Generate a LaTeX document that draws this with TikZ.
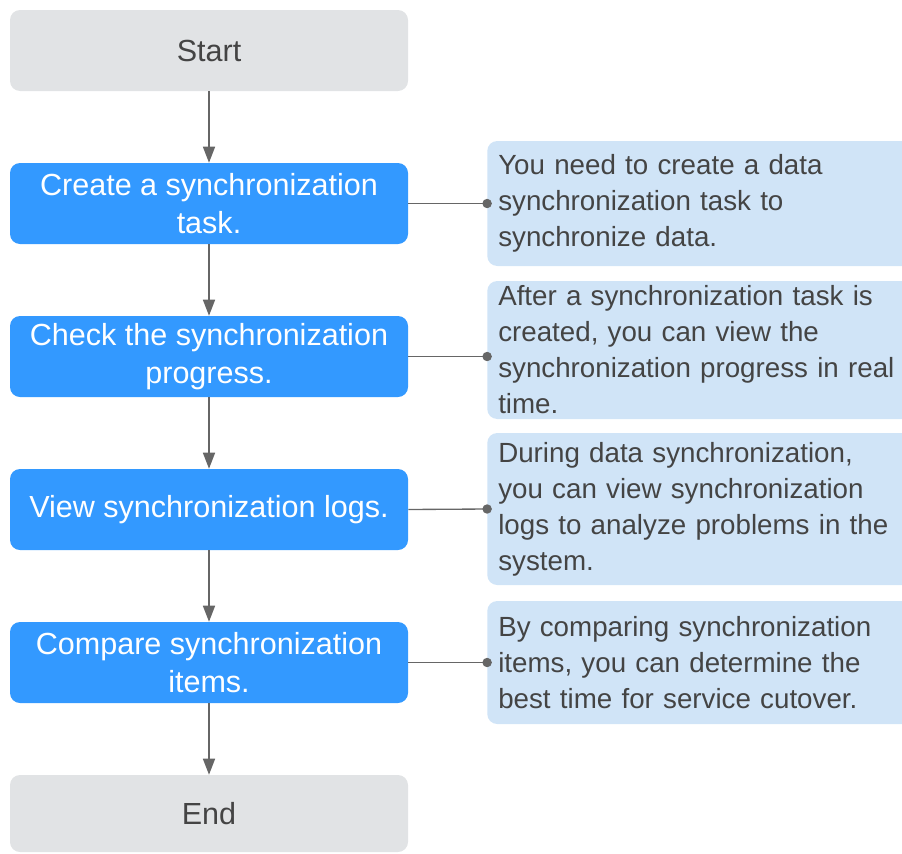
\documentclass[tikz,border=0pt]{standalone}
\usepackage{fontspec}
\setmainfont{Liberation Sans}
\usetikzlibrary{arrows.meta}
\definecolor{termgray}{HTML}{E1E3E5}
\definecolor{flowblue}{HTML}{3399FF}
\definecolor{noteblue}{HTML}{D0E4F7}
\definecolor{textgray}{HTML}{444444}
\definecolor{linegray}{HTML}{666666}
\begin{document}
\begin{tikzpicture}[x=0.75pt,y=-0.75pt,line join=round,
	term/.style={fill=termgray,rounded corners=7.5pt,minimum width=298.5pt,minimum height=60.75pt,
		text=textgray,align=center,font=\fontsize{22.9}{28}\selectfont},
	flow/.style={term,fill=flowblue,text=white},
	note/.style={anchor=west,fill=noteblue,rounded corners=7.5pt,text width=304pt,inner xsep=8.25pt,
		align=left,text=textgray,font=\fontsize{20.8}{27}\selectfont},
	go/.style={draw=linegray,line width=1.1pt,-{Triangle[length=12pt,width=9pt]}},
	tie/.style={draw=linegray,line width=1pt,shorten >=-3.6pt,-{Circle[length=7pt]}}]
	\useasboundingbox (0,0) rectangle (902,853);
	\node[term] (start) at (209,50.5) {Start};
	\node[flow] (create) at (209,203.5) {Create a synchronization\\task.};
	\node[flow] (check) at (209,356.5) {Check the synchronization\\progress.};
	\node[flow] (logs) at (209,509.5) {View synchronization logs.};
	\node[flow] (compare) at (209,662.5) {Compare synchronization\\items.};
	\node[term,minimum height=57.75pt] (end) at (209,813.5) {End};
	\node[note,minimum height=93.75pt] (createnote) at (487,203.5)
		{You need to create a data\\synchronization task to\\synchronize data.};
	\node[note,minimum height=103.5pt] (checknote) at (487,350)
		{After a synchronization task is\\created, you can view the\\synchronization progress in real\\time.};
	\node[note,minimum height=114pt] (logsnote) at (487,509)
		{During data synchronization,\\you can view synchronization\\logs to analyze problems in the\\system.};
	\node[note,minimum height=92.25pt] (comparenote) at (487,662.5)
		{By comparing synchronization\\items, you can determine the\\best time for service cutover.};
	\draw[go] (start) -- (create);
	\draw[go] (create) -- (check);
	\draw[go] (check) -- (logs);
	\draw[go] (logs) -- (compare);
	\draw[go] (compare) -- (end);
	\draw[tie] (create.east) -- (createnote.west);
	\draw[tie] (check.east) -- (check.east-|checknote.west);
	\draw[tie] (logs.east) -- (logsnote.west);
	\draw[tie] (compare.east) -- (comparenote.west);
\end{tikzpicture}
\end{document}
